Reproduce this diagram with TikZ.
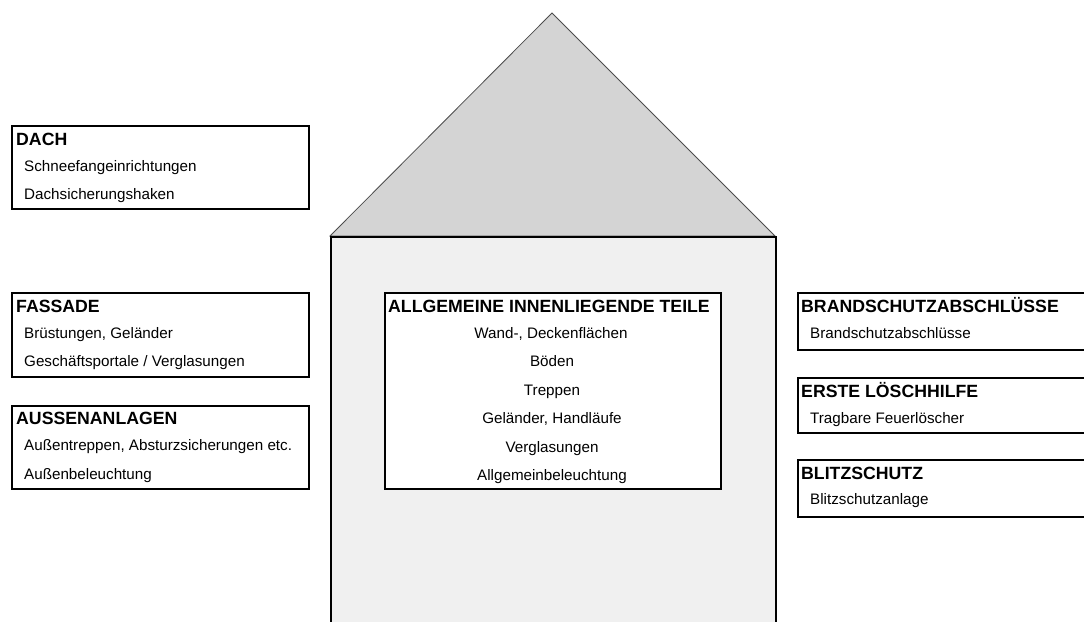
\documentclass[tikz,border=0pt]{standalone}
\usepackage{fontspec}
\setmainfont{Liberation Sans}
\begin{document}
\begin{tikzpicture}[x=1pt,y=-1pt,
  box/.style={draw=black,line width=1.8pt,fill=white,rectangle,anchor=north west,inner sep=0pt},
  ttl/.style={anchor=base west,inner sep=0pt,font=\fontsize{17.7}{20}\selectfont\bfseries},
  itm/.style={anchor=base west,inner sep=0pt,font=\fontsize{15.2}{17}\selectfont},
  citm/.style={anchor=base,inner sep=0pt,font=\fontsize{15.2}{17}\selectfont},
  cttl/.style={anchor=base,inner sep=0pt,font=\fontsize{17.7}{20}\selectfont\bfseries}]
\useasboundingbox (0,0) rectangle (1084,621);
% house
\coordinate (apex) at (552,13);
\coordinate (eavesL) at (330,236);
\coordinate (eavesR) at (775,236);
\filldraw[fill=black!17,draw=black!70,line width=0.8pt] (eavesL) -- (apex) -- (eavesR) -- cycle;
\node[draw=black,line width=1.8pt,fill=black!6,anchor=north west,inner sep=0pt,minimum width=445pt,minimum height=395pt] (body) at (330,236) {};
% left boxes
\node[box,minimum width=297pt,minimum height=83pt] (dach) at (11,125) {};
\node[ttl] (dachT) at (16,145) {DACH};
\node[itm] (dach1) at (24,171) {Schneefangeinrichtungen};
\node[itm] (dach2) at (24,199.5) {Dachsicherungshaken};
\node[box,minimum width=297pt,minimum height=84pt] (fas) at (11,292) {};
\node[ttl] (fasT) at (16,312) {FASSADE};
\node[itm] (fas1) at (24,338) {Brüstungen, Geländer};
\node[itm] (fas2) at (24,366.5) {Geschäftsportale / Verglasungen};
\node[box,minimum width=297pt,minimum height=83pt] (aus) at (11,405) {};
\node[ttl] (ausT) at (16,424) {AUSSENANLAGEN};
\node[itm] (aus1) at (24,450.5) {Außentreppen, Absturzsicherungen etc.};
\node[itm] (aus2) at (24,479) {Außenbeleuchtung};
% center box
\node[box,minimum width=336pt,minimum height=196pt] (inn) at (384,292) {};
\node[cttl] (innT) at (549,312) {ALLGEMEINE INNENLIEGENDE TEILE};
\node[citm] (inn1) at (551,338) {Wand-, Deckenflächen};
\node[citm] (inn2) at (552,366.5) {Böden};
\node[citm] (inn3) at (552,395) {Treppen};
\node[citm] (inn4) at (552,423.5) {Geländer, Handläufe};
\node[citm] (inn5) at (552,452) {Verglasungen};
\node[citm] (inn6) at (552,480.5) {Allgemeinbeleuchtung};
% right boxes
\node[box,minimum width=300pt,minimum height=57pt] (bsa) at (797,292) {};
\node[ttl] (bsaT) at (801,312) {BRANDSCHUTZABSCHLÜSSE};
\node[itm] (bsa1) at (810,338) {Brandschutzabschlüsse};
\node[box,minimum width=300pt,minimum height=55pt] (loe) at (797,377) {};
\node[ttl] (loeT) at (801,397) {ERSTE LÖSCHHILFE};
\node[itm] (loe1) at (810,423) {Tragbare Feuerlöscher};
\node[box,minimum width=300pt,minimum height=57pt] (bli) at (797,459) {};
\node[ttl] (bliT) at (801,479) {BLITZSCHUTZ};
\node[itm] (bli1) at (810,504.5) {Blitzschutzanlage};
\end{tikzpicture}
\end{document}
